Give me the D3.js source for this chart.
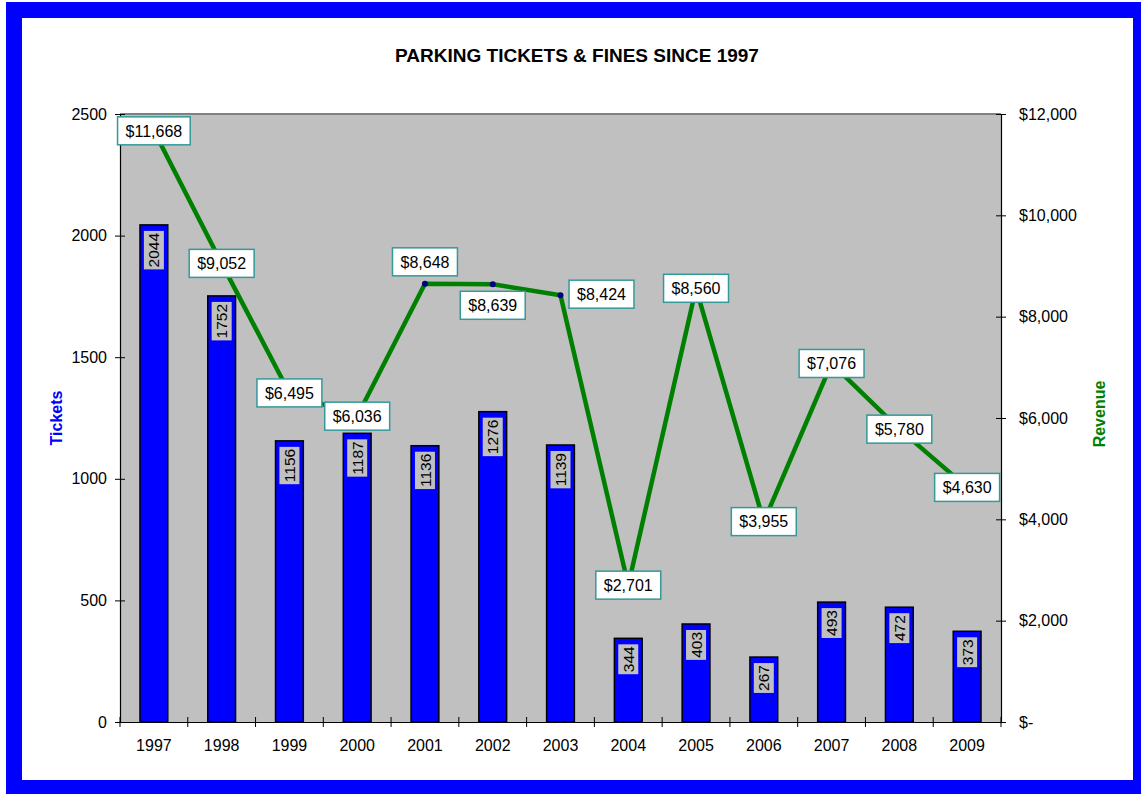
<!DOCTYPE html>
<html>
<head>
<meta charset="utf-8">
<script src="https://cdn.jsdelivr.net/npm/d3@7/dist/d3.min.js"></script>
<style>
  body { margin: 0; background: #fff; }
  text { font-family: "Liberation Sans", Arial, sans-serif; }
</style>
</head>
<body>
<svg id="viz"></svg>
<script>
// Parking tickets & fines chart

const years = ["1997", "1998", "1999", "2000", "2001", "2002", "2003", "2004", "2005", "2006", "2007", "2008", "2009"];
const tickets = [2044, 1752, 1156, 1187, 1136, 1276, 1139, 344, 403, 267, 493, 472, 373];
const revenue = [11668, 9052, 6495, 6036, 8648, 8639, 8424, 2701, 8560, 3955, 7076, 5780, 4630];
const ticketTicks = [0, 500, 1000, 1500, 2000, 2500];
const revenueTicks = [0, 2000, 4000, 6000, 8000, 10000, 12000];

const width = 1141, height = 794;
const plot = { left: 120, right: 1001, top: 114, bottom: 722 };

// labels that were dragged off their points in the original
const labelShift = { "2001": [0, -22], "2002": [0, 21], "2003": [41, -1] };

const svg = d3.select("#viz")
  .attr("width", width)
  .attr("height", height);

// blue frame
svg.append("rect")
  .attr("x", 6).attr("y", 2)
  .attr("width", width - 6).attr("height", height - 2)
  .attr("fill", "#0000ff");
svg.append("rect")
  .attr("x", 22).attr("y", 18)
  .attr("width", 1133 - 22).attr("height", 780 - 18)
  .attr("fill", "#fff");

// scales
const x = d3.scaleBand()
  .domain(years)
  .range([plot.left, plot.right])
  .paddingInner(0.59)
  .paddingOuter(0.295);
const step = x.step();
const cx = d => x(d) + x.bandwidth() / 2;

const yT = d3.scaleLinear().domain([0, 2500]).range([plot.bottom, plot.top]);
const yR = d3.scaleLinear().domain([0, 12000]).range([plot.bottom, plot.top]);

// plot area
svg.append("rect")
  .attr("x", plot.left).attr("y", plot.top)
  .attr("width", plot.right - plot.left)
  .attr("height", plot.bottom - plot.top)
  .attr("fill", "#c0c0c0");
svg.append("line")
  .attr("x1", plot.left).attr("x2", plot.right)
  .attr("y1", plot.top).attr("y2", plot.top)
  .attr("stroke", "#808080").attr("stroke-width", 2);

// title
svg.append("text")
  .attr("x", 577).attr("y", 62)
  .attr("text-anchor", "middle")
  .style("font-size", "19px")
  .style("font-weight", "bold")
  .text("PARKING TICKETS & FINES SINCE 1997");

// axis titles
svg.append("text")
  .attr("transform", "translate(62, 418) rotate(-90)")
  .attr("text-anchor", "middle")
  .attr("fill", "#0000ff")
  .style("font-size", "16px")
  .style("font-weight", "bold")
  .text("Tickets");
svg.append("text")
  .attr("transform", "translate(1105, 414) rotate(-90)")
  .attr("text-anchor", "middle")
  .attr("fill", "#008000")
  .style("font-size", "16px")
  .style("font-weight", "bold")
  .text("Revenue");

// bars
svg.selectAll(".bar")
  .data(years)
  .enter()
  .append("rect")
  .attr("class", "bar")
  .attr("x", d => x(d))
  .attr("y", (d, i) => yT(tickets[i]))
  .attr("width", x.bandwidth())
  .attr("height", (d, i) => plot.bottom - yT(tickets[i]))
  .attr("fill", "#0000ff")
  .attr("stroke", "#000")
  .attr("stroke-width", 1.5);

// bar value labels (rotated, grey box)
years.forEach((yr, i) => {
  const top = yT(tickets[i]) + 6;
  const lg = svg.append("g");
  const bg = lg.append("rect").attr("fill", "#c0c0c0");
  const t = lg.append("text")
    .attr("transform", `translate(${cx(yr)}, ${top + 2}) rotate(-90)`)
    .attr("text-anchor", "end")
    .attr("dy", "0.36em")
    .style("font-size", "15.5px")
    .text(tickets[i]);
  const len = t.node().getComputedTextLength();
  bg.attr("x", cx(yr) - 10).attr("y", top)
    .attr("width", 20).attr("height", len + 4);
});

// axes
const leftAxis = svg.append("g")
  .attr("transform", `translate(${plot.left},0)`)
  .call(d3.axisLeft(yT).tickValues(ticketTicks).tickSize(5).tickPadding(8).tickSizeOuter(0)
    .tickFormat(d3.format("d")));
leftAxis.selectAll(".tick line").attr("x1", 5);

const rightAxis = svg.append("g")
  .attr("transform", `translate(${plot.right},0)`)
  .call(d3.axisRight(yR).tickValues(revenueTicks).tickSize(5).tickPadding(13).tickSizeOuter(0)
    .tickFormat(d => d === 0 ? "$-" : "$" + d3.format(",")(d)));
rightAxis.selectAll(".tick line").attr("x1", -5);

const bottomAxis = svg.append("g")
  .attr("transform", `translate(0,${plot.bottom})`)
  .call(d3.axisBottom(x).tickSize(0).tickPadding(18).tickSizeOuter(0));

[leftAxis, rightAxis, bottomAxis].forEach(a => {
  a.select(".domain").attr("stroke", "#000").attr("stroke-width", 1.2);
  a.selectAll(".tick line").attr("stroke", "#000");
  a.selectAll("text")
    .style("font-size", "16px")
    .style("font-family", "'Liberation Sans', Arial, sans-serif")
    .attr("fill", "#000");
});

// category separator ticks
svg.append("g")
  .selectAll("line")
  .data(d3.range(years.length + 1))
  .enter()
  .append("line")
  .attr("x1", i => plot.left + step * i)
  .attr("x2", i => plot.left + step * i)
  .attr("y1", plot.bottom - 5)
  .attr("y2", plot.bottom + 5)
  .attr("stroke", "#000");

// revenue line
const line = d3.line()
  .x(d => cx(d.year))
  .y(d => yR(d.value));
const revData = years.map((year, i) => ({ year, value: revenue[i] }));

svg.append("path")
  .datum(revData)
  .attr("d", line)
  .attr("fill", "none")
  .attr("stroke", "#008000")
  .attr("stroke-width", 4.5)
  .attr("stroke-linejoin", "round");

svg.selectAll(".marker")
  .data(revData)
  .enter()
  .append("circle")
  .attr("class", "marker")
  .attr("cx", d => cx(d.year))
  .attr("cy", d => yR(d.value))
  .attr("r", 3)
  .attr("fill", "#000080");

// revenue labels
revData.forEach(d => {
  const shift = labelShift[d.year] || [0, 0];
  const px = cx(d.year) + shift[0];
  const py = yR(d.value) + shift[1];
  const lg = svg.append("g");
  const box = lg.append("rect")
    .attr("fill", "#fff")
    .attr("stroke", "#339999")
    .attr("stroke-width", 1.5);
  const t = lg.append("text")
    .attr("x", px).attr("y", py)
    .attr("text-anchor", "middle")
    .attr("dy", "0.36em")
    .style("font-size", "16px")
    .text("$" + d3.format(",")(d.value));
  const w = t.node().getComputedTextLength() + 16;
  box.attr("x", px - w / 2).attr("y", py - 14)
    .attr("width", w).attr("height", 28);
});
</script>
</body>
</html>
